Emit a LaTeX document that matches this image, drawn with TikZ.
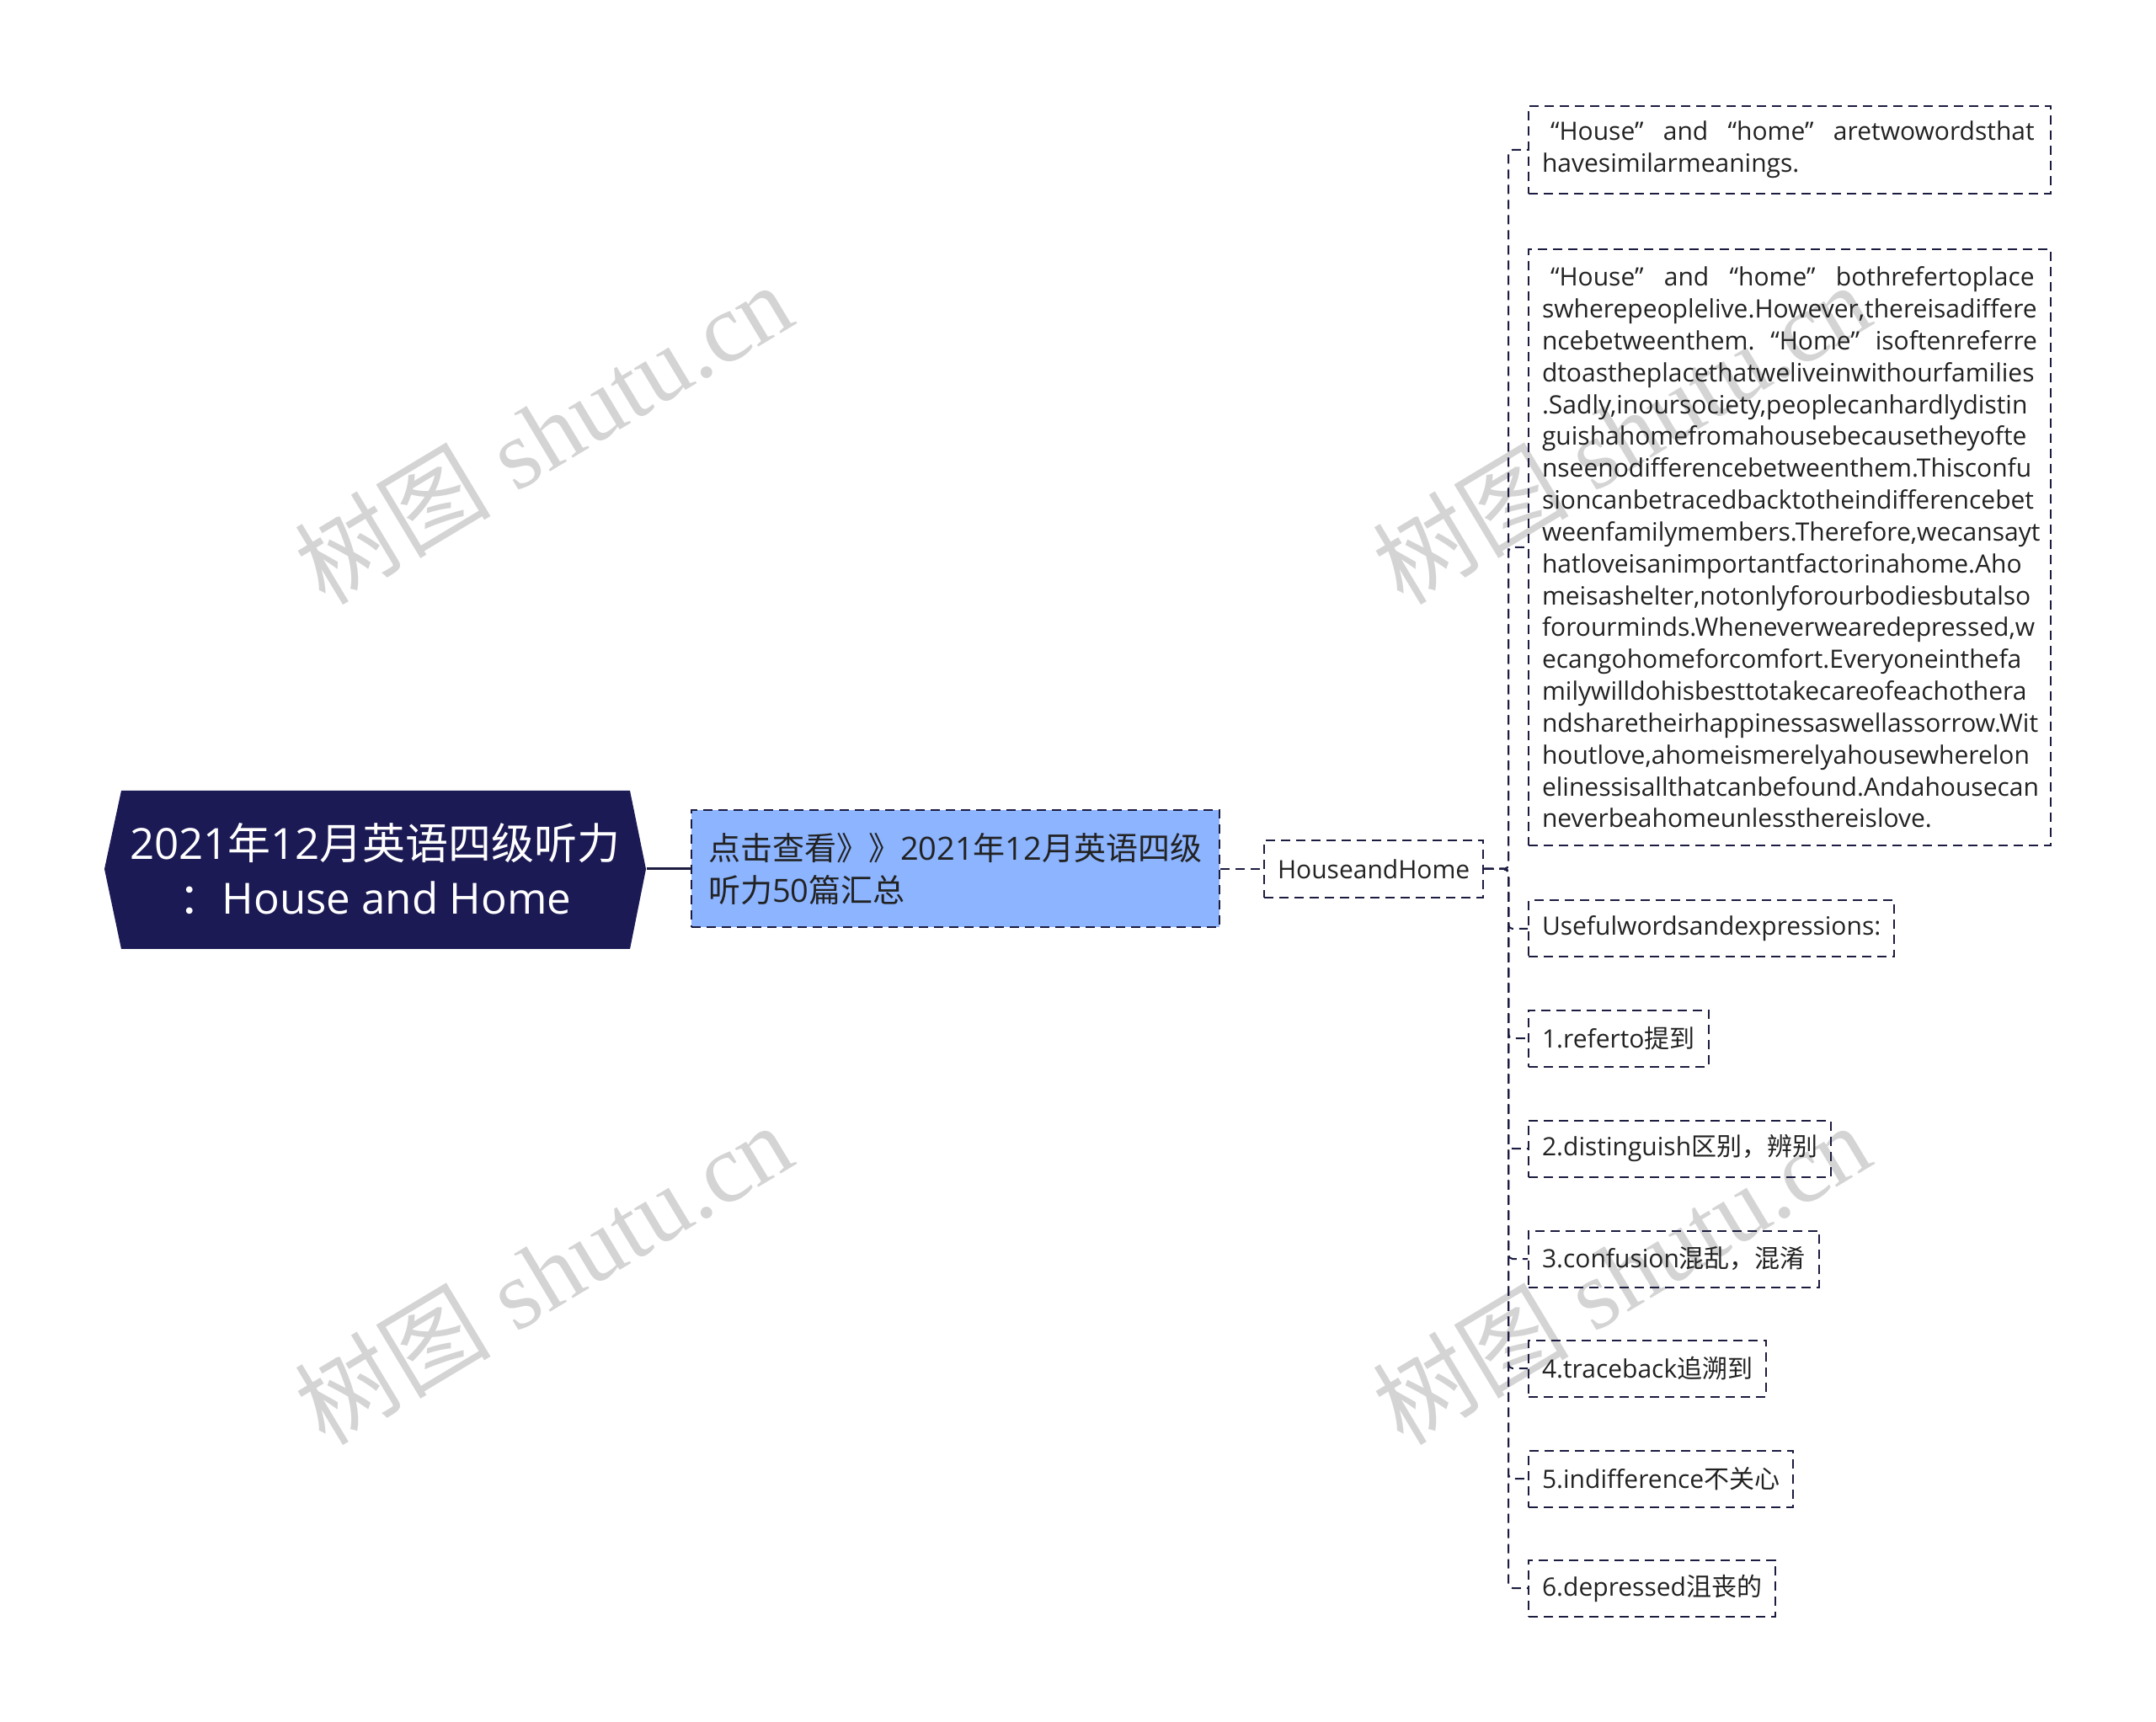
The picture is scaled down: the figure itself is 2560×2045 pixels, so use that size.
\documentclass[tikz,border=0pt]{standalone}
\usepackage{fontspec}
\setmainfont{Open Sans}
\newfontfamily\cjk{Noto Sans CJK SC}
\newfontfamily\wmserif{Liberation Serif}
\newcommand{\zh}[1]{{\cjk #1}}
\definecolor{navy}{HTML}{1C1A55}
\definecolor{edge}{HTML}{1C1C40}
\definecolor{childfill}{HTML}{8CB4FF}
\definecolor{txt}{HTML}{222222}
\definecolor{wm}{HTML}{D4D4D4}
\newcommand{\jl}[1]{\leavevmode\hbox to 176.4pt{#1}}
\begin{document}
\begin{tikzpicture}[x=0.3pt,y=-0.3pt,
  dashbox/.style={draw=edge, line width=0.6pt, dash pattern=on 3.3pt off 2.1pt, anchor=west,
    inner xsep=4.8pt, inner ysep=0pt, text=txt, font=\fontsize{9pt}{11.35pt}\selectfont},
  leaf/.style={dashbox, minimum height=20.1pt},
  para/.style={dashbox, text width=176.4pt, align=left},
  link/.style={draw=edge, line width=0.6pt, dash pattern=on 3.3pt off 2.1pt},
  wmark/.style={text=wm, rotate=31, font=\fontsize{35pt}{40pt}\selectfont}
]
\useasboundingbox (0,0) rectangle (2560,2045);

% watermarks
\node[wmark] (wm1) at (645,514) {\zh{树图} \wmserif shutu.cn};
\node[wmark] (wm2) at (645,1512) {\zh{树图} \wmserif shutu.cn};
\node[wmark] (wm3) at (1925,514) {\zh{树图} \wmserif shutu.cn};
\node[wmark] (wm4) at (1925,1512) {\zh{树图} \wmserif shutu.cn};

% root
\fill[navy] (124,1032) -- (144,939) -- (748,939) -- (767,1032) -- (748,1127) -- (144,1127) -- cycle;
\node[text=white, align=center, minimum width=192.9pt, inner sep=0pt,
  font=\fontsize{15.3pt}{19.5pt}\selectfont] (root) at (445.5,1032)
  {2021\zh{年}12\zh{月英语四级听力}\\\zh{：}House and Home};

% child
\node[draw=edge, line width=0.6pt, dash pattern=on 3.3pt off 2.1pt, fill=childfill, anchor=west,
  minimum width=188.1pt, minimum height=41.7pt, text width=176.1pt, inner xsep=6pt, align=left,
  text=txt, font=\fontsize{11.4pt}{15.2pt}\selectfont] (child) at (820,1032)
  {\zh{点击查看》》}2021\zh{年}12\zh{月英语四级}\\\zh{听力}50\zh{篇汇总}};

\node[leaf, minimum height=20.4pt] (hh) at (1500,1032) {HouseandHome};

% leaves
\node[para, minimum height=31.2pt] (l1) at (1814,178)
  {\jl{\hspace{3pt}“House”\hfill and\hfill “home”\hfill aretwowordsthat\hspace{1pt}}\\havesimilarmeanings.};
\node[para, minimum height=212.4pt] (l2) at (1814,650)
  {\jl{\hspace{3pt}“House”\hfill and\hfill “home”\hfill bothrefertoplace\hspace{1pt}}\\
   swherepeoplelive.However,thereisadiffere\\
   \jl{ncebetweenthem.\hfill “Home”\hfill isoftenreferre}\\
   dtoastheplacethatweliveinwithourfamilies\\
   .Sadly,inoursociety,peoplecanhardlydistin\\
   guishahomefromahousebecausetheyofte\\
   nseenodifferencebetweenthem.Thisconfu\\
   sioncanbetracedbacktotheindifferencebet\\
   weenfamilymembers.Therefore,wecansayt\\
   hatloveisanimportantfactorinahome.Aho\\
   meisashelter,notonlyforourbodiesbutalso\\
   forourminds.Wheneverwearedepressed,w\\
   ecangohomeforcomfort.Everyoneinthefa\\
   milywilldohisbesttotakecareofeachothera\\
   ndsharetheirhappinessaswellassorrow.Wit\\
   houtlove,ahomeismerelyahousewherelon\\
   elinessisallthatcanbefound.Andahousecan\\
   neverbeahomeunlessthereislove.};
\node[leaf] (l3) at (1814,1103) {Usefulwordsandexpressions:};
\node[leaf] (l4) at (1814,1233) {1.referto\zh{提到}};
\node[leaf] (l5) at (1814,1364) {2.distinguish\zh{区别，辨别}};
\node[leaf] (l6) at (1814,1495) {3.confusion\zh{混乱，混淆}};
\node[leaf] (l7) at (1814,1625) {4.traceback\zh{追溯到}};
\node[leaf] (l8) at (1814,1756) {5.indifference\zh{不关心}};
\node[leaf] (l9) at (1814,1886) {6.depressed\zh{沮丧的}};

% connectors
\draw[edge, line width=0.9pt] (root.east) -- (child.west);
\draw[link] (child.east) -- (hh.west);
\coordinate (trunk) at (1791,1032);
\foreach \n in {l1,l2,l3,l4,l5,l6,l7,l8,l9}
  \draw[link, rounded corners=1.5pt] (hh.east) -- (trunk) |- (\n.west);
\end{tikzpicture}
\end{document}
